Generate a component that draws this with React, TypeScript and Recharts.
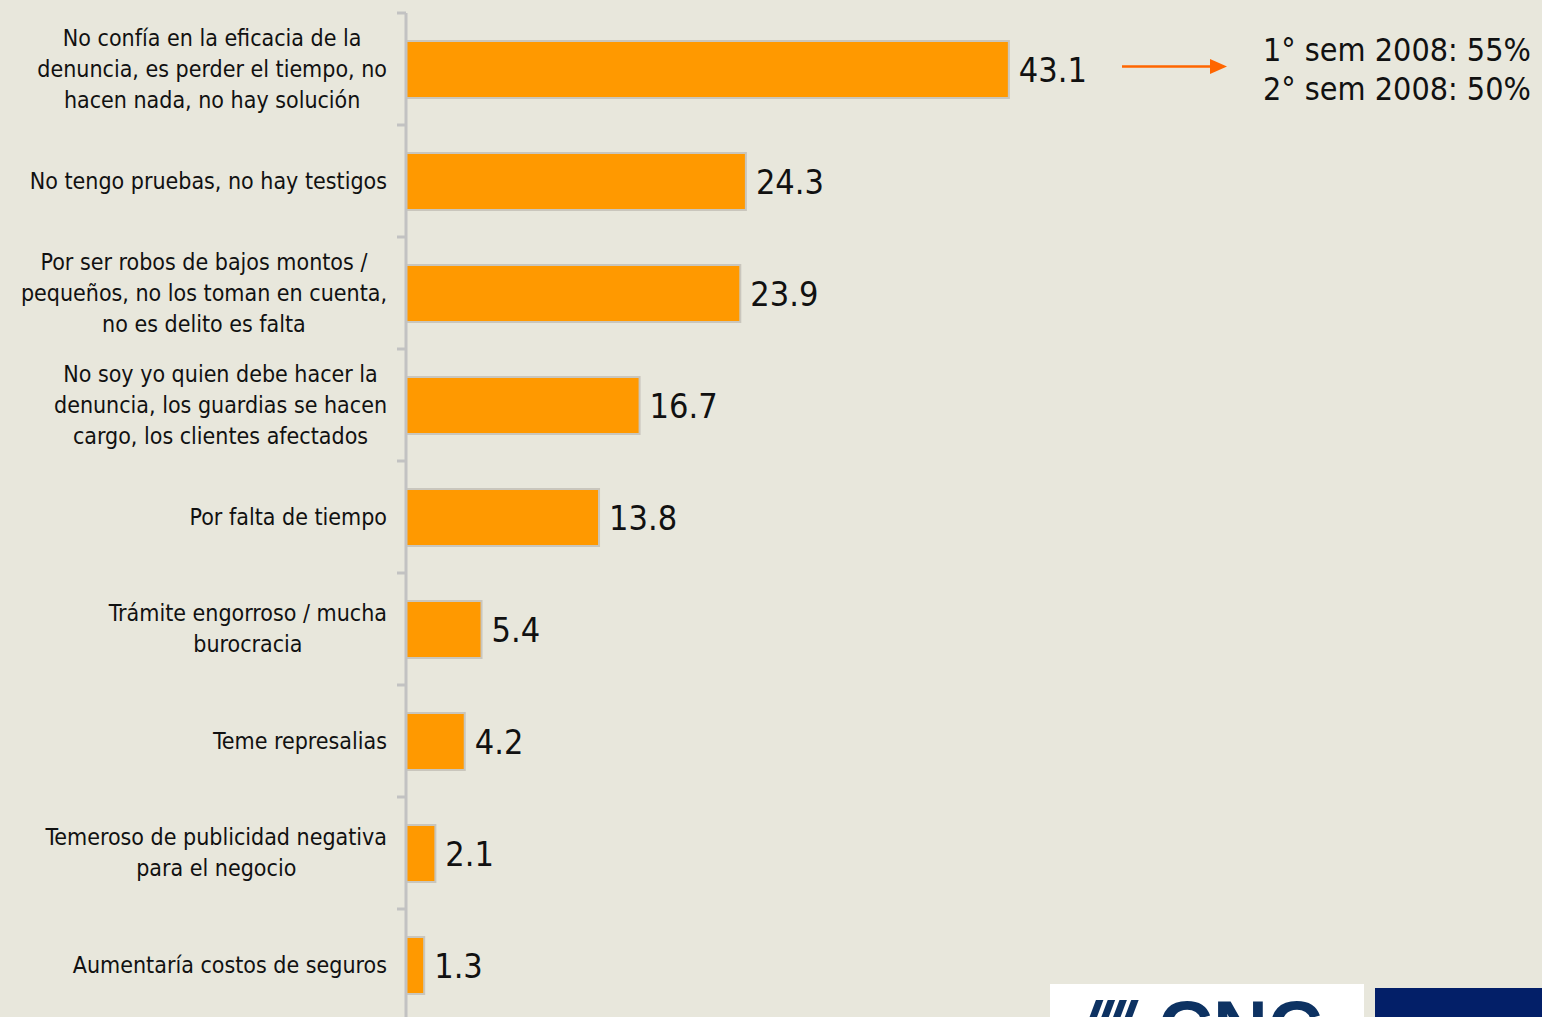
import { Bar, BarChart, LabelList, XAxis, YAxis } from 'recharts'

const reasons = [
  'No confía en la eficacia de la\ndenuncia, es perder el tiempo, no\nhacen nada, no hay solución',
  'No tengo pruebas, no hay testigos',
  'Por ser robos de bajos montos /\npequeños, no los toman en cuenta,\nno es delito es falta',
  'No soy yo quien debe hacer la\ndenuncia, los guardias se hacen\ncargo, los clientes afectados',
  'Por falta de tiempo',
  'Trámite engorroso / mucha\nburocracia',
  'Teme represalias',
  'Temeroso de publicidad negativa\npara el negocio',
  'Aumentaría costos de seguros',
]
const percents = [43.1, 24.3, 23.9, 16.7, 13.8, 5.4, 4.2, 2.1, 1.3]
const semesterNotes = ['1° sem 2008: 55%', '2° sem 2008: 50%']

const BG = '#e8e7dc'
const ORANGE = '#ff9900'
const AXIS = '#c2c2c2'
const FONT = '"DejaVu Sans Condensed", "DejaVu Sans", sans-serif'

const CHART_H = 1030
const MARGIN = { top: 13, right: 17, bottom: 9, left: 0 }
const LABEL_GAP = 19
const TICK_LEN = 9

const rows = reasons.map((reason, i) => ({ reason, pct: percents[i] }))

function ReasonTick(props: any) {
  const { x, y, payload, index } = props
  const half =
    payload.offset ?? (CHART_H - MARGIN.top - MARGIN.bottom) / rows.length / 2
  const w = 400
  const h = 120
  const axisX = x + LABEL_GAP
  return (
    <g>
      {/* tick marks sit on the band boundaries */}
      <line x1={axisX - TICK_LEN} x2={axisX} y1={y - half} y2={y - half} stroke={AXIS} strokeWidth={3} />
      {index === rows.length - 1 && (
        <line x1={axisX - TICK_LEN} x2={axisX} y1={y + half} y2={y + half} stroke={AXIS} strokeWidth={3} />
      )}
      <foreignObject x={x - w} y={y - h / 2} width={w} height={h}>
        <div
          style={{
            width: w,
            height: h,
            display: 'flex',
            alignItems: 'center',
            justifyContent: 'flex-end',
          }}
        >
          <div
            style={{
              textAlign: 'center',
              whiteSpace: 'pre',
              fontFamily: FONT,
              fontStretch: 'condensed',
              fontSize: 23,
              lineHeight: '31px',
              color: '#111',
            }}
          >
            {payload.value}
          </div>
        </div>
      </foreignObject>
    </g>
  )
}

export default function App() {
  return (
    <div
      style={{
        position: 'absolute',
        left: 0,
        top: 0,
        width: 1542,
        height: 1017,
        overflow: 'hidden',
        background: BG,
      }}
    >
      <BarChart width={1542} height={CHART_H} data={rows} layout="vertical" margin={MARGIN}>
        <XAxis type="number" domain={[0, 80]} hide />
        <YAxis
          type="category"
          dataKey="reason"
          width={406}
          tickLine={false}
          axisLine={{ stroke: AXIS, strokeWidth: 3 }}
          tickSize={0}
          tickMargin={LABEL_GAP}
          tick={<ReasonTick />}
          interval={0}
        />
        <Bar
          dataKey="pct"
          fill={ORANGE}
          stroke="#c9c6bd"
          strokeWidth={2}
          barSize={57}
          isAnimationActive={false}
        >
          <LabelList
            dataKey="pct"
            position="right"
            offset={10}
            formatter={(v: any) => Number(v).toFixed(1)}
            fill="#111"
            fontSize={34}
            fontFamily={FONT}
            style={{ fontStretch: 'condensed' }}
          />
        </Bar>
      </BarChart>

      <svg
        width={1542}
        height={1017}
        style={{ position: 'absolute', left: 0, top: 0, pointerEvents: 'none' }}
      >
        <line x1={1122} y1={66.5} x2={1212} y2={66.5} stroke="#ff6600" strokeWidth={2.5} />
        <polygon points="1210,59 1227,66.5 1210,74" fill="#ff6600" />
      </svg>

      <div
        style={{
          position: 'absolute',
          left: 1263,
          top: 31,
          fontFamily: FONT,
          fontStretch: 'condensed',
          fontSize: 32,
          lineHeight: '39px',
          color: '#111',
          whiteSpace: 'pre',
        }}
      >
        {semesterNotes.join('\n')}
      </div>

      <div
        style={{
          position: 'absolute',
          left: 1050,
          top: 984,
          width: 314,
          height: 40,
          background: '#ffffff',
          overflow: 'hidden',
        }}
      >
        <div
          style={{
            position: 'absolute',
            left: 30,
            top: 4,
            fontFamily: 'Liberation Sans, Arial, sans-serif',
            fontWeight: 'bold',
            fontStyle: 'italic',
            fontSize: 64,
            color: '#0d3262',
            letterSpacing: -6,
          }}
        >
          ////
        </div>
        <div
          style={{
            position: 'absolute',
            left: 108,
            top: 0,
            fontFamily: 'Liberation Sans, Arial, sans-serif',
            fontWeight: 'bold',
            fontSize: 76,
            color: '#0d3262',
          }}
        >
          CNC
        </div>
      </div>
      <div
        style={{
          position: 'absolute',
          left: 1375,
          top: 988,
          width: 170,
          height: 40,
          background: '#031f68',
        }}
      />
    </div>
  )
}
